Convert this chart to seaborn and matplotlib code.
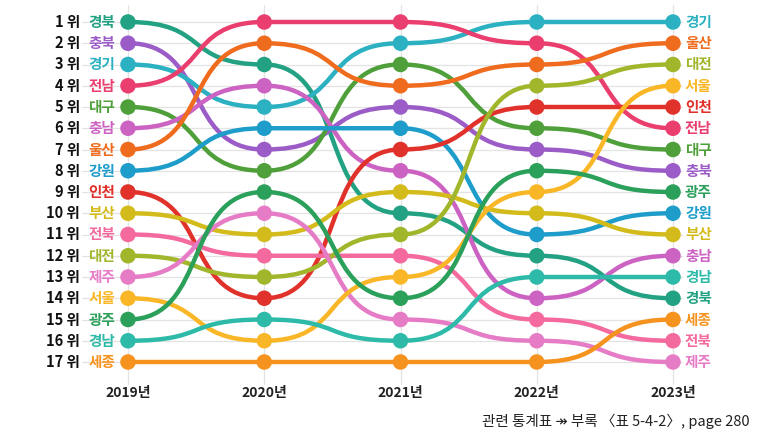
import matplotlib
matplotlib.use("Agg")
import matplotlib.pyplot as plt
from matplotlib.path import Path
from matplotlib.patches import PathPatch
import seaborn as sns
import pandas as pd

years = ["2019년", "2020년", "2021년", "2022년", "2023년"]

order_2019 = ["경북", "충북", "경기", "전남", "대구", "충남", "울산", "강원", "인천",
              "부산", "전북", "대전", "제주", "서울", "광주", "경남", "세종"]
order_2020 = ["전남", "울산", "경북", "충남", "경기", "강원", "충북", "대구", "광주",
              "제주", "부산", "전북", "대전", "인천", "경남", "서울", "세종"]
order_2021 = ["전남", "경기", "대구", "울산", "충북", "강원", "인천", "충남", "부산",
              "경북", "대전", "전북", "서울", "광주", "제주", "경남", "세종"]
order_2022 = ["경기", "전남", "울산", "대전", "인천", "대구", "충북", "광주", "서울",
              "부산", "강원", "경북", "경남", "충남", "전북", "제주", "세종"]
order_2023 = ["경기", "울산", "대전", "서울", "인천", "전남", "대구", "충북", "광주",
              "강원", "부산", "충남", "경남", "경북", "세종", "전북", "제주"]
orders = [order_2019, order_2020, order_2021, order_2022, order_2023]

colors = {
    "경북": "#22a282", "충북": "#9b5cc8", "경기": "#2bb1c1", "전남": "#ea3f6e",
    "대구": "#4fa03b", "충남": "#cc62c2", "울산": "#ef6b1e", "강원": "#1e9dcb",
    "인천": "#e0312b", "부산": "#d4bb1c", "전북": "#f46a9f", "대전": "#a2b62c",
    "제주": "#e67bc6", "서울": "#f9b728", "광주": "#2ba05a", "경남": "#2ebaa8",
    "세종": "#f6921e",
}

rows = []
for yi, order in enumerate(orders):
    for r, name in enumerate(order, start=1):
        rows.append({"year": yi, "rank": r, "region": name})
df = pd.DataFrame(rows)

sns.set_theme(style="white")
plt.rcParams["font.family"] = ["Noto Sans CJK KR", "DejaVu Sans"]

W, H = 757, 434
fig = plt.figure(figsize=(W / 100, H / 100), dpi=100)
ax = fig.add_axes([0, 0, 1, 1])

X0, DX = 128, 136.25
Y0, DY = 22, 21.25
def px(p):
    return (p - X0) / DX
def py(p):
    return 1 + (p - Y0) / DY

# grid
for r in range(1, 18):
    ax.plot([px(82), px(682)], [r, r], color="#e3e3e3", lw=0.9, zorder=0)
for yi in range(5):
    ax.plot([yi, yi], [py(5), py(384)], color="#e3e3e3", lw=0.9, zorder=0)

# curves
k = 0.6
for name in order_2019:
    sub = df[df.region == name].sort_values("year")
    xs, ys = sub.year.tolist(), sub["rank"].tolist()
    verts = [(xs[0], ys[0])]
    codes = [Path.MOVETO]
    for i in range(len(xs) - 1):
        d = xs[i + 1] - xs[i]
        verts += [(xs[i] + k * d, ys[i]), (xs[i + 1] - k * d, ys[i + 1]), (xs[i + 1], ys[i + 1])]
        codes += [Path.CURVE4] * 3
    ax.add_patch(PathPatch(Path(verts, codes), facecolor="none", edgecolor=colors[name],
                           lw=3.2, capstyle="round", zorder=2))

sns.scatterplot(data=df, x="year", y="rank", hue="region", palette=colors,
                s=125, edgecolor="none", legend=False, zorder=3, ax=ax)
ax.set_xlim(px(0), px(W))
ax.set_ylim(py(H), py(0))
ax.axis("off")

# left labels
for r, name in enumerate(order_2019, start=1):
    ax.text(px(80), r, f"{r} 위", ha="right", va="center", fontsize=10.5,
            fontweight="bold", color="#111111")
    ax.text(px(115), r, name, ha="right", va="center", fontsize=10.5,
            fontweight="bold", color=colors[name])
# right labels
for r, name in enumerate(order_2023, start=1):
    ax.text(px(685), r, name, ha="left", va="center", fontsize=10.5,
            fontweight="bold", color=colors[name])

for yi, lab in enumerate(years):
    ax.text(yi, py(393), lab, ha="center", va="center", fontsize=10,
            fontweight="bold", color="#222222")

ax.text(px(750), py(421), "관련 통계표 ↠ 부록 〈표 5-4-2〉, page 280", ha="right",
        va="center", fontsize=10.5, color="#222222")

fig.savefig("out.png", dpi=100)
